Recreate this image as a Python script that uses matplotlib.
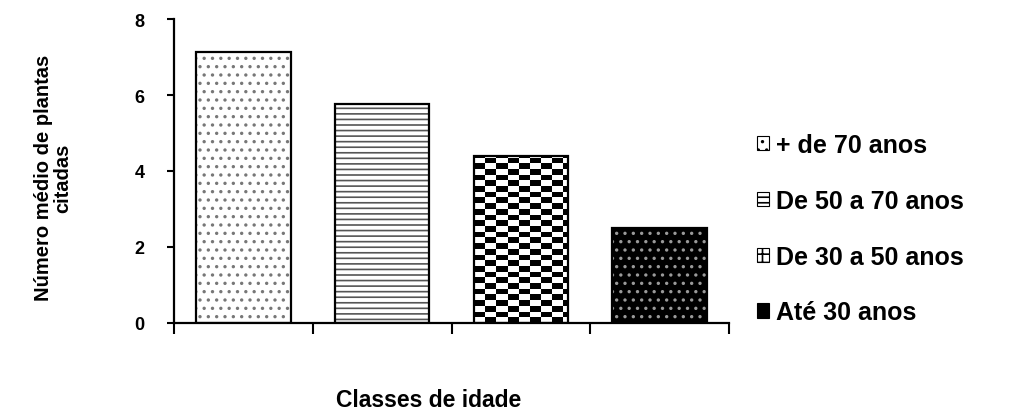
import numpy as np
import matplotlib
matplotlib.use("Agg")
import matplotlib.pyplot as plt
from matplotlib.patches import Patch

categories = ["+ de 70 anos", "De 50 a 70 anos", "De 30 a 50 anos", "Até 30 anos"]
values = [7.13, 5.76, 4.39, 2.50]
yticks = [0, 2, 4, 6, 8]
ytick_labels = ["0", "2", "4", "6", "8"]

plt.rcParams['font.family'] = ['Liberation Sans', 'DejaVu Sans']
plt.rcParams['hatch.linewidth'] = 1.2

fig = plt.figure(figsize=(10.1, 4.1), dpi=100)
ax = fig.add_axes([0.1723, 0.2098, 0.7218 - 0.1723, 0.9512 - 0.2098])

x = np.arange(len(categories))
w = 0.68

faces = ["white", "white", "white", "black"]
hatch_cols = ["#777777", "#555555", None, "#9a9a9a"]
hatches = ["..", "---", None, ".."]
bars = ax.bar(x, values, width=w, color=faces, linewidth=0, zorder=2)

for i, b in enumerate(bars):
    if hatches[i] is not None:
        ax.bar(x[i], values[i], width=w, facecolor="none", edgecolor=hatch_cols[i],
               hatch=hatches[i], linewidth=0, zorder=3)

# checkerboard for the third bar
b3 = bars[2]
x0, y0 = b3.get_x(), b3.get_y()
bw, bh = b3.get_width(), b3.get_height()
cw, chh = 0.08, 0.15
nx = int(np.ceil(bw / cw)); ny = int(np.ceil(bh / chh))
chk = (np.add.outer(np.arange(ny), np.arange(nx)) % 2).astype(float)
im = ax.imshow(chk, cmap="gray_r", extent=[x0, x0 + nx * cw, y0, y0 + ny * chh],
               origin="lower", aspect="auto", interpolation="nearest", zorder=2.5,
               vmin=0, vmax=1)
im.set_clip_path(b3)

ax.bar(x, values, width=w, facecolor="none", edgecolor="black", linewidth=1.6, zorder=4)

ax.set_xlim(-0.5, 3.5)
ax.set_ylim(0, 8)
ax.set_yticks(yticks)
ax.set_yticklabels(ytick_labels, fontsize=13, fontweight="bold")
ax.set_xticks([-0.5, 0.5, 1.5, 2.5, 3.5])
ax.set_xticklabels([])
ax.tick_params(axis="y", direction="out", length=5, width=1.5, pad=16)
ax.tick_params(axis="x", direction="out", length=8, width=1.5)
for s in ["top", "right"]:
    ax.spines[s].set_visible(False)
for s in ["left", "bottom"]:
    ax.spines[s].set_linewidth(1.6)

ax.set_ylabel("Número médio de plantas\ncitadas", fontsize=14.5, fontweight="bold",
              linespacing=1.05)
ax.yaxis.set_label_coords(-0.183, 0.48)
ax.set_xlabel("Classes de idade", fontsize=16.5, fontweight="bold")
ax.xaxis.set_label_coords(0.458, -0.213)

handles = []
for i in range(4):
    handles.append(Patch(facecolor=faces[i],
                         edgecolor="black", hatch=hatches[i] if i != 2 else "++",
                         linewidth=0.8, label=categories[i]))
leg = ax.legend(handles=handles, loc="center left", bbox_to_anchor=(1.05, 0.31),
                frameon=False, prop={"size": 18, "weight": "bold"},
                handlelength=0.5, handleheight=0.5, handletextpad=0.25,
                labelspacing=1.27, borderaxespad=0, borderpad=0)

fig.savefig("out.png", dpi=100)
